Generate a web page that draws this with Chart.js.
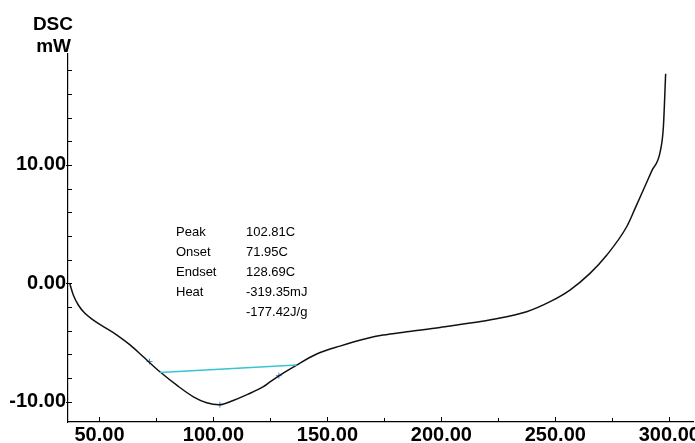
<!DOCTYPE html>
<html>
<head>
<meta charset="utf-8">
<script src="https://cdn.jsdelivr.net/npm/chart.js@4/dist/chart.umd.min.js"></script>
<style>
  html, body { margin: 0; padding: 0; background: #fff; overflow: hidden; }
  canvas { display: block; }
</style>
</head>
<body>
<canvas id="c" width="720" height="443"></canvas>
<script>
// ---- data ----
const temperature = [37.0, 38.5, 40.7, 43.6, 47.3, 51.7, 57.5, 63.4, 69.2, 76.5, 83.9, 91.2, 97.0, 102.5, 107.5,
  115.3, 121.9, 125.0, 129.2, 136.5, 145.3, 155.5, 167.2, 174.4, 184.8, 199.4, 222.8, 237.4, 247.7, 256.4,
  265.2, 272.6, 281.3, 285.0, 288.6, 292.3, 296.0, 297.4, 298.4];
const heatFlow = [-0.05, -0.99, -1.83, -2.53, -3.10, -3.65, -4.35, -5.20, -6.20, -7.47, -8.60, -9.58, -10.08, -10.25, -9.98,
  -9.35, -8.73, -8.30, -7.75, -6.90, -5.97, -5.30, -4.66, -4.37, -4.09, -3.72, -3.04, -2.40, -1.55, -0.57,
  0.84, 2.39, 4.78, 6.33, 7.88, 9.50, 11.11, 13.2, 17.7];
const baselineT = [76.5, 136.5];
const baselineY = [-7.53, -6.90];
const markerT = [71.95, 102.81, 128.69];
const markerY = [-6.6, -10.25, -7.8];
const annotationLabels = ['Peak', 'Onset', 'Endset', 'Heat', ''];
const annotationValues = ['102.81C', '71.95C', '128.69C', '-319.35mJ', '-177.42J/g'];
const yTitle = ['DSC', 'mW'];
const xMajorStep = 50, xMinorStep = 25;
const yMajorStep = 10, yMinorStep = 2;

const toPts = (xs, ys) => xs.map((x, i) => ({ x: x, y: ys[i] }));
const FONT = '"Liberation Sans", Arial, sans-serif';

const extras = {
  id: 'extras',
  afterDraw(chart) {
    const ctx = chart.ctx;
    const xs = chart.scales.x, ys = chart.scales.y;
    const area = chart.chartArea;
    ctx.save();
    ctx.strokeStyle = '#000';
    ctx.lineWidth = 1;
    // inward ticks
    xs.ticks.forEach(t => {
      const px = Math.round(xs.getPixelForValue(t.value)) + 0.5;
      const len = (Math.abs(t.value % xMajorStep) < 1e-6) ? 5 : 4;
      ctx.beginPath(); ctx.moveTo(px, area.bottom); ctx.lineTo(px, area.bottom - len); ctx.stroke();
    });
    ys.ticks.forEach(t => {
      const py = Math.round(ys.getPixelForValue(t.value)) + 0.5;
      const major = Math.abs(t.value % yMajorStep) < 1e-6;
      ctx.beginPath(); ctx.moveTo(area.left - (major ? 2 : 0), py); ctx.lineTo(area.left + 4, py); ctx.stroke();
    });
    // y title
    ctx.fillStyle = '#000';
    ctx.font = 'bold 19px ' + FONT;
    ctx.textAlign = 'right';
    ctx.textBaseline = 'alphabetic';
    ctx.fillText(yTitle[0], 73, 30);
    ctx.fillText(yTitle[1], 71, 52);
    // annotation block
    ctx.font = '13px ' + FONT;
    ctx.textAlign = 'left';
    ctx.textBaseline = 'middle';
    const lx = 176, vx = 246;
    annotationLabels.forEach((lab, i) => {
      const y = 232 + i * 20.2;
      if (lab) ctx.fillText(lab, lx, y);
      ctx.fillText(annotationValues[i], vx, y);
    });
    ctx.restore();
  }
};

new Chart(document.getElementById('c'), {
  type: 'scatter',
  data: {
    datasets: [
      {
        data: toPts(baselineT, baselineY),
        showLine: true, borderColor: '#38c4d4', borderWidth: 1.6,
        pointRadius: 0, fill: false
      },
      {
        data: toPts(temperature, heatFlow),
        showLine: true, borderColor: '#111', borderWidth: 1.5,
        pointRadius: 0, fill: false, cubicInterpolationMode: 'monotone'
      },
      {
        data: toPts(markerT, markerY),
        showLine: false, pointStyle: 'cross', pointRadius: 3,
        borderColor: '#4a8ad8', borderWidth: 1
      }
    ]
  },
  options: {
    responsive: false,
    animation: false,
    layout: { padding: { top: 54, right: 27, left: 0, bottom: 0 } },
    plugins: { legend: { display: false }, tooltip: { enabled: false }, title: { display: false } },
    scales: {
      x: {
        type: 'linear', min: 36.18, max: 310.4,
        afterFit: s => { s.height = 21; },
        grid: { display: true, drawOnChartArea: false, drawTicks: false },
        border: { display: true, color: '#000', width: 1.2 },
        ticks: {
          stepSize: xMinorStep, includeBounds: false, autoSkip: false, maxRotation: 0, padding: 1,
          color: '#000', font: { family: FONT, size: 20, weight: 'bold' },
          callback: v => (Math.abs(v % xMajorStep) < 1e-6 ? v.toFixed(2) : '')
        }
      },
      y: {
        type: 'linear', min: -11.71, max: 19.37,
        afterFit: s => { s.width = 68; },
        grid: { display: true, drawOnChartArea: false, drawTicks: false },
        border: { display: true, color: '#000', width: 1.2 },
        ticks: {
          stepSize: yMinorStep, includeBounds: false, autoSkip: false, padding: 2,
          color: '#000', font: { family: FONT, size: 20, weight: 'bold' },
          callback: v => (Math.abs(v % yMajorStep) < 1e-6 ? v.toFixed(2) : '')
        }
      }
    }
  },
  plugins: [extras]
});
</script>
</body>
</html>
